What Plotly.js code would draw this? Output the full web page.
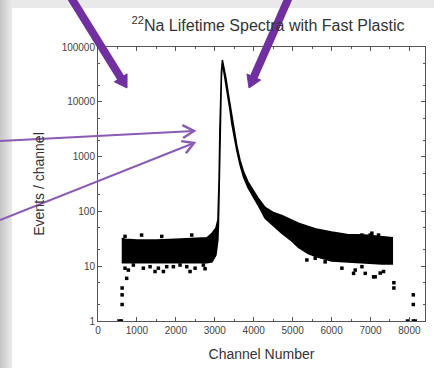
<!DOCTYPE html>
<html>
<head>
<meta charset="utf-8">
<script src="https://cdn.plot.ly/plotly-3.0.1.min.js"></script>
<style>
  html, body { margin: 0; padding: 0; }
  body { width: 434px; height: 368px; position: relative; overflow: hidden;
         background: linear-gradient(to right, #c4c4c4 0px, #dedede 8px, #e9e9e9 12px, #e9e9e9 100%); }
  #slide { position: absolute; left: 12px; top: 8px; right: 0; bottom: 0; background: #ffffff; }
  #chart { position: absolute; left: 0; top: 0; width: 434px; height: 368px; }
</style>
</head>
<body>
<div id="slide"></div>
<div id="chart"></div>
<script>
// Envelope of the dense spectrum band (channel, upper / lower counts)
const bandChannel = [610, 700, 1000, 1500, 2000, 2500, 2800, 2930, 3030, 3080, 3095, 3110, 3130, 3150, 3170, 3195, 3230, 3283, 3340, 3393, 3437, 3500, 3565, 3650, 3736, 3850, 3951, 4100, 4293, 4500, 4720, 4950, 5150, 5400, 5600, 6000, 6400, 6860, 7290, 7560];
const bandUpper   = [32, 31, 30, 30, 31, 32, 33, 40, 50, 70, 120, 400, 3000, 12000, 35000, 58000, 45000, 28000, 15000, 9000, 5000, 2700, 1600, 850, 540, 350, 265, 180, 118, 96, 84, 70, 61, 53, 48, 42, 38, 37, 34, 33];
const bandLower   = [11.5, 11.5, 11.5, 11.5, 11.5, 11.5, 11.5, 12, 16, 30, 60, 200, 1500, 8000, 28000, 52000, 38000, 23000, 12000, 7000, 4000, 2200, 1300, 700, 430, 275, 210, 135, 75, 55, 40, 30, 22, 17, 15, 12.5, 11.8, 11.4, 11, 11];

// Isolated points outside the dense band
const outlierChannel = [560, 600, 620, 620, 620, 694, 737, 780, 908, 1165, 1337, 1465, 1551, 1680, 1765, 1937, 2108, 2280, 2365, 2494, 2707, 2750,
                        694, 1120, 1637, 2408,
                        5365, 5580, 5835, 6265, 6565, 6607, 6780, 6865, 7080, 7120, 7250, 7335,
                        6780, 6990, 7035, 7206,
                        7600, 7600, 7950, 8100, 8100, 8100, 8150];
const outlierCounts  = [1, 1, 2, 3, 4, 9.2, 6, 8.5, 10.5, 9.2, 9.8, 8, 9.2, 8, 9.8, 9.8, 10.5, 9.8, 8, 9.2, 10.5, 9,
                        35, 37, 35, 37,
                        13, 14, 12, 9.2, 7.4, 8.5, 9.8, 7.4, 6.4, 6.4, 7.5, 8,
                        37, 37, 40, 37,
                        5, 4, 1, 1, 2, 3, 1];

const yTickVals = [1, 10, 100, 1000, 10000, 100000];
const yTickText = ["1", "10", "100", "1000", "10000", "100000"];

const polyX = bandChannel.concat(bandChannel.slice().reverse());
const polyY = bandUpper.concat(bandLower.slice().reverse());

const traces = [
  {
    x: polyX, y: polyY, type: 'scatter', mode: 'lines',
    fill: 'toself', fillcolor: '#000000',
    line: { color: '#000000', width: 1.5 },
    hoverinfo: 'skip', showlegend: false
  },
  {
    x: outlierChannel, y: outlierCounts, type: 'scatter', mode: 'markers',
    marker: { symbol: 'square', size: 3.5, color: '#000000' },
    showlegend: false
  }
];

const W = 434, H = 368, L = 98, R = 9, T = 47, B = 47;
const pw = W - L - R, ph = H - T - B;
function px(x) { return (x - L) / pw; }
function py(y) { return (H - B - y) / ph; }

const purple = '#7030a0';
const lightPurple = '#8a5bb4';

// decorative slide arrows (pixel geometry -> paper coordinates)
function thickArrow(tx, ty, hx, hy, w, headLen, headHalf, color) {
  const dx = hx - tx, dy = hy - ty, len = Math.hypot(dx, dy);
  const ux = dx / len, uy = dy / len, nx = -uy, ny = ux;
  const bx = hx - ux * headLen, by = hy - uy * headLen;
  const p1 = [bx + nx * headHalf, by + ny * headHalf];
  const p2 = [bx - nx * headHalf, by - ny * headHalf];
  return [
    { type: 'line', xref: 'paper', yref: 'paper', x0: px(tx), y0: py(ty), x1: px(bx + ux), y1: py(by + uy),
      line: { color: color, width: w } },
    { type: 'path', xref: 'paper', yref: 'paper',
      path: 'M' + px(hx) + ',' + py(hy) + 'L' + px(p1[0]) + ',' + py(p1[1]) + 'L' + px(p2[0]) + ',' + py(p2[1]) + 'Z',
      fillcolor: color, line: { color: color, width: 1 } }
  ];
}
function thinArrow(tx, ty, hx, hy, w, armLen, color) {
  const dx = hx - tx, dy = hy - ty, len = Math.hypot(dx, dy);
  const ux = dx / len, uy = dy / len;
  const a = Math.PI / 6;
  const arms = [a, -a].map(function (t) {
    const rx = -(ux * Math.cos(t) - uy * Math.sin(t));
    const ry = -(ux * Math.sin(t) + uy * Math.cos(t));
    return [hx + rx * armLen, hy + ry * armLen];
  });
  return [
    { type: 'line', xref: 'paper', yref: 'paper', x0: px(tx), y0: py(ty), x1: px(hx), y1: py(hy), line: { color: color, width: w } },
    { type: 'path', xref: 'paper', yref: 'paper',
      path: 'M' + px(arms[0][0]) + ',' + py(arms[0][1]) + 'L' + px(hx) + ',' + py(hy) + 'L' + px(arms[1][0]) + ',' + py(arms[1][1]),
      line: { color: color, width: w + 0.5 } }
  ];
}

const shapes = []
  .concat(thickArrow(65, -12, 127, 88, 8, 12, 7.5, purple))
  .concat(thickArrow(293, -12, 249, 88, 8, 12, 7.5, purple))
  .concat(thinArrow(0, 141, 194, 131, 2, 13, lightPurple))
  .concat(thinArrow(0, 220, 194, 143, 2, 13, lightPurple));

const layout = {
  width: W, height: H,
  margin: { l: L, r: R, t: T, b: B },
  paper_bgcolor: 'rgba(0,0,0,0)',
  plot_bgcolor: '#ffffff',
  font: { family: 'Liberation Sans, Arial, sans-serif', color: '#333333', size: 10 },
  title: {
    text: '<sup>22</sup>Na Lifetime Spectra with Fast Plastic',
    font: { size: 16, color: '#333333' },
    x: 268 / W, xref: 'container', xanchor: 'center',
    y: 1 - 25 / H, yref: 'container', yanchor: 'middle'
  },
  xaxis: {
    range: [0, 8400], dtick: 1000, tick0: 0,
    showgrid: false, zeroline: false,
    showline: true, linecolor: '#555555', linewidth: 1, mirror: 'ticks',
    ticks: 'inside', ticklen: 4, tickcolor: '#555555',
    minor: { dtick: 500, ticks: 'inside', ticklen: 2, tickcolor: '#555555', showgrid: false },
    tickfont: { size: 10, color: '#444444' },
    title: { text: 'Channel Number', font: { size: 14, color: '#333333' }, standoff: 14 }
  },
  yaxis: {
    type: 'log', range: [0, 5],
    tickvals: yTickVals, ticktext: yTickText,
    showgrid: false, zeroline: false,
    showline: true, linecolor: '#555555', linewidth: 1, mirror: 'ticks',
    ticks: 'inside', ticklen: 4, tickcolor: '#555555',
    minor: { ticks: 'inside', ticklen: 2, tickcolor: '#555555', showgrid: false },
    tickfont: { size: 10, color: '#444444' },
    title: { text: 'Events / channel', font: { size: 14, color: '#333333' }, standoff: 13 }
  },
  shapes: shapes,
  showlegend: false
};

Plotly.newPlot('chart', traces, layout, { staticPlot: true, displayModeBar: false });
</script>
</body>
</html>
